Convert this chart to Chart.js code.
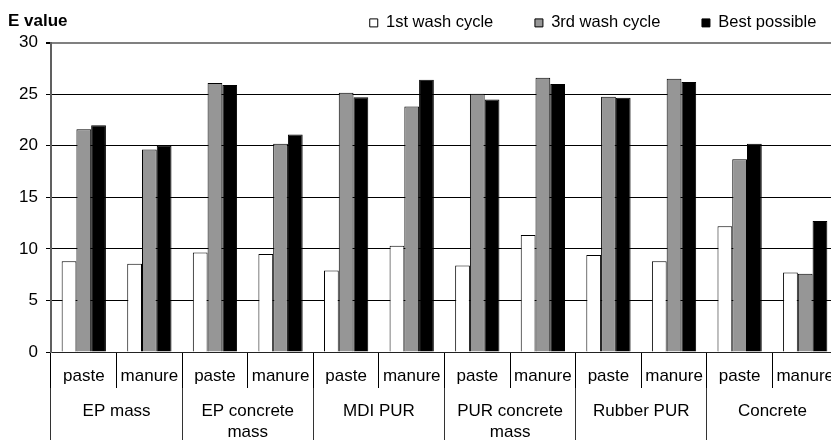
<!DOCTYPE html>
<html>
<head>
<meta charset="utf-8">
<script src="https://cdn.jsdelivr.net/npm/chart.js@4.4.1/dist/chart.umd.min.js"></script>
<style>
html,body{margin:0;padding:0;overflow:hidden;background:#fff;width:831px;height:440px;}
canvas{display:block;}
</style>
</head>
<body>
<canvas id="c" width="858" height="440"></canvas>
<script>
const subCategories = ['paste','manure','paste','manure','paste','manure','paste','manure','paste','manure','paste','manure'];
const groups = ['EP mass', ['EP concrete','mass'], 'MDI PUR', ['PUR concrete','mass'], 'Rubber PUR', 'Concrete'];
const seriesNames = ['1st wash cycle','3rd wash cycle','Best possible'];
const firstWash = [8.8, 8.55, 9.65, 9.5, 7.9, 10.3, 8.4, 11.35, 9.4, 8.8, 12.2, 7.7];
const thirdWash = [21.6, 19.65, 26.1, 20.2, 25.15, 23.8, 25.05, 26.6, 24.75, 26.5, 18.7, 7.6];
const bestPossible = [22.0, 20.0, 25.9, 21.1, 24.7, 26.4, 24.5, 26.0, 24.65, 26.2, 20.2, 12.7];
const yTicks = [0, 5, 10, 15, 20, 25, 30];

Chart.defaults.font.family = '"Liberation Sans", Arial, sans-serif';
Chart.defaults.color = '#000';

new Chart(document.getElementById('c'), {
  type: 'bar',
  data: {
    labels: subCategories,
    datasets: [
      {label: seriesNames[0], data: firstWash, backgroundColor: '#ffffff', borderColor: '#000', borderWidth: 1},
      {label: seriesNames[1], data: thirdWash, backgroundColor: '#969696', borderColor: '#000', borderWidth: 1},
      {label: seriesNames[2], data: bestPossible, backgroundColor: '#000000', borderColor: '#000', borderWidth: 1}
    ]
  },
  options: {
    responsive: false,
    animation: false,
    devicePixelRatio: 1,
    categoryPercentage: 0.675,
    barPercentage: 1,
    layout: {padding: {left: 8, right: 0, top: -27, bottom: 0}},
    plugins: {
      tooltip: {enabled: false},
      title: {
        display: true, text: 'E value', align: 'start', color: '#000',
        font: {size: 17, weight: 'bold'},
        padding: {top: 38.5, bottom: -58.9}
      },
      legend: {
        display: true, position: 'top', align: 'end',
        labels: {boxWidth: 8, boxHeight: 8, padding: 41.65, color: '#000', font: {size: 16.5}}
      }
    },
    scales: {
      x: {
        type: 'category', position: 'bottom', weight: 0, offset: true,
        grid: {display: true, offset: true, drawOnChartArea: false, drawTicks: true, tickLength: 36, color: '#000', tickColor: '#000', lineWidth: 1},
        border: {display: true, color: '#222', width: 1},
        ticks: {autoSkip: false, maxRotation: 0, minRotation: 0, padding: -22, color: '#000', font: {size: 17}},
        afterFit: s => { s.height = 36; }
      },
      x2: {
        type: 'category', axis: 'x', position: 'bottom', weight: 1, offset: true, labels: groups,
        grid: {display: true, offset: true, drawOnChartArea: false, drawTicks: true, tickLength: 52, color: '#333', tickColor: '#333', lineWidth: 1},
        border: {display: false},
        ticks: {autoSkip: false, maxRotation: 0, minRotation: 0, padding: -39, color: '#000', font: {size: 17, lineHeight: 1.24}},
        afterFit: s => { s.height = 52; }
      },
      xTop: {
        type: 'linear', axis: 'x', position: 'top', min: 0, max: 1,
        grid: {display: false}, border: {display: false}, ticks: {display: false},
        afterFit: s => { s.height = 1.55; }
      },
      y: {
        type: 'linear', position: 'left', min: 0, max: 30,
        afterBuildTicks: s => { s.ticks = yTicks.map(v => ({value: v})); },
        grid: {
          display: true, drawTicks: true, tickLength: 5,
          color: c => (c.tick && c.tick.value === 30) ? '#808080' : '#000',
          lineWidth: c => (c.tick && c.tick.value === 30) ? 2 : 1,
          tickColor: '#000'
        },
        border: {display: true, color: '#606060', width: 2},
        ticks: {padding: 8, color: '#000', font: {size: 17}},
        afterFit: s => { s.width = 43; }
      },
      yRight: {
        type: 'linear', axis: 'y', position: 'right', min: 0, max: 30,
        grid: {display: false}, border: {display: false}, ticks: {display: false},
        afterFit: s => { s.width = 20; }
      }
    }
  }
});
</script>
</body>
</html>
